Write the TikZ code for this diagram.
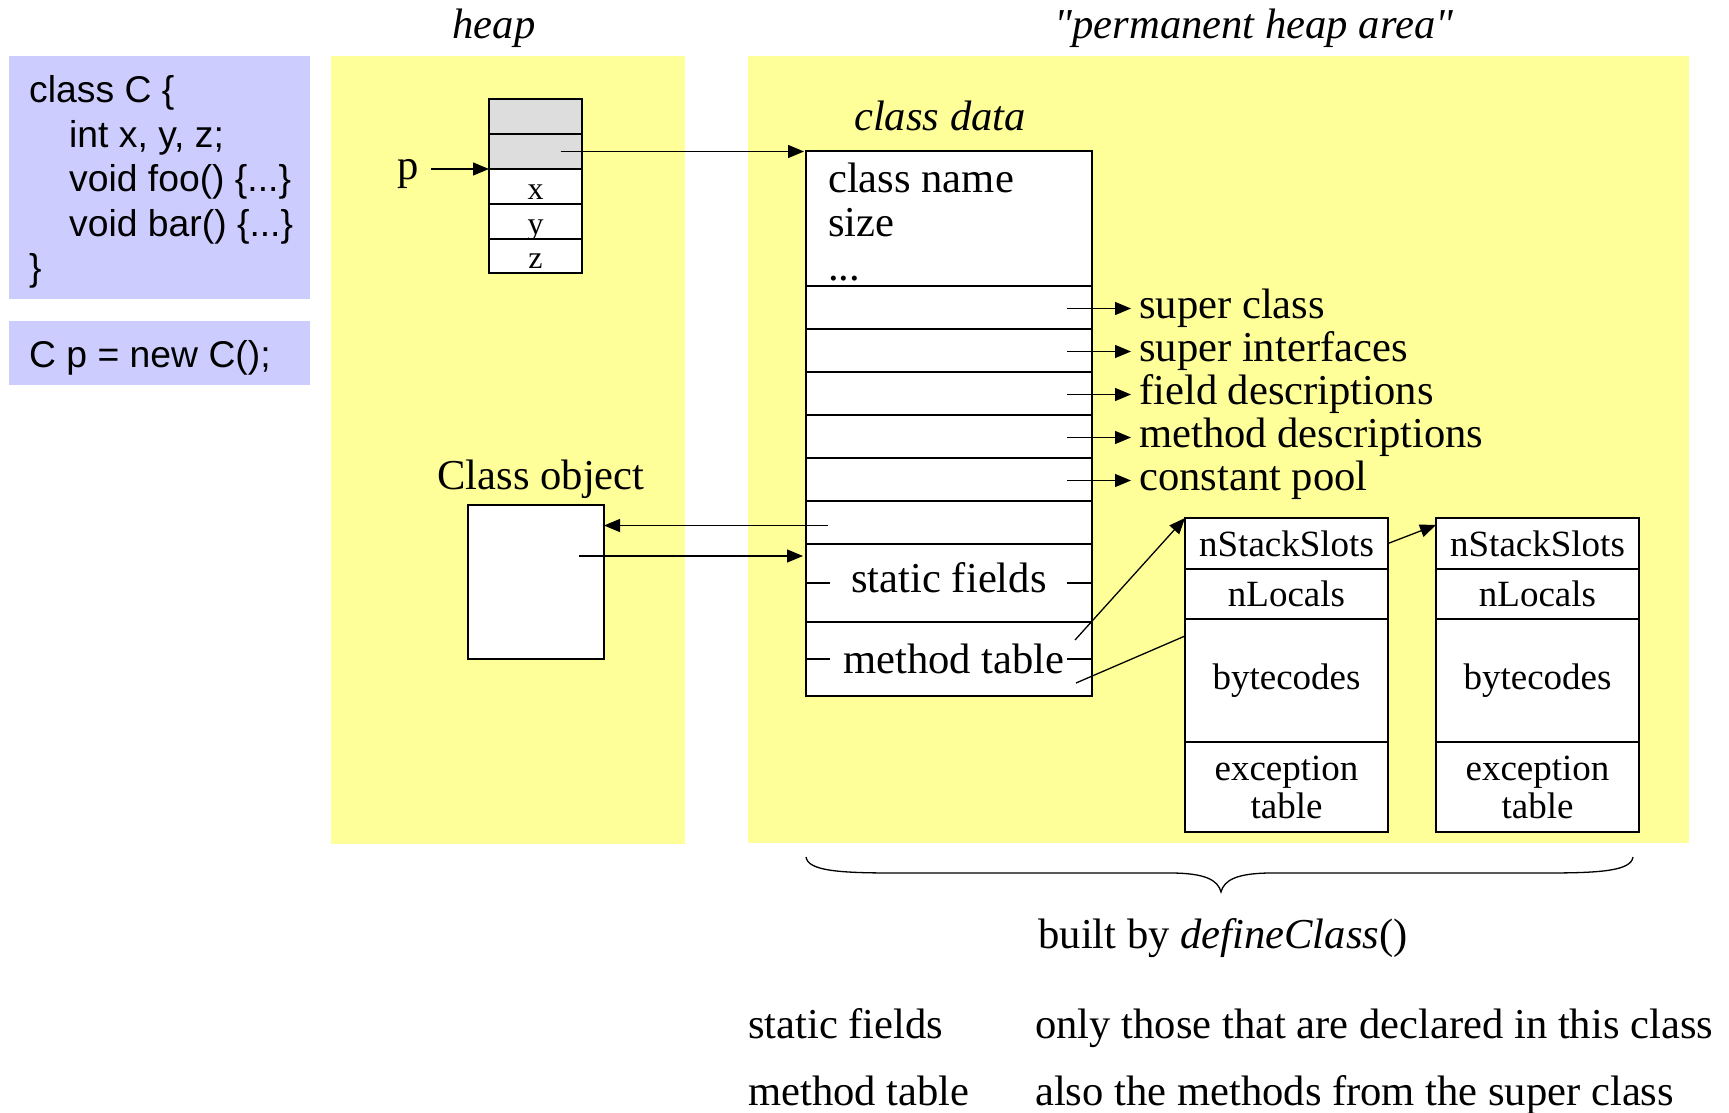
\documentclass[tikz,border=0pt]{standalone}
\usepackage{fontspec}
\setmainfont{Liberation Serif}
\newfontfamily\codefont{Liberation Sans}
\usetikzlibrary{arrows.meta,positioning}
\definecolor{cHeap}{HTML}{FFFF99}
\definecolor{cCode}{HTML}{CCCCFF}
\definecolor{cHdr}{HTML}{DDDDDD}
\newcommand\straightquote{\XeTeXglyph\XeTeXcharglyph"22\relax}
\tikzset{
  >={Triangle[length=16pt,width=13pt]},
  heaparea/.style={fill=cHeap},
  codebox/.style ={fill=cCode},
  cell/.style    ={draw,fill=white,line width=1.5pt,inner sep=0pt,outer sep=0pt},
  ptr/.style     ={->,line width=1.3pt},
  tickline/.style={line width=1.3pt},
  bigtxt/.style  ={font=\fontsize{42.6}{44}\selectfont,inner sep=0pt},
  midtxt/.style  ={font=\fontsize{37}{38}\selectfont},
  smalltxt/.style={font=\fontsize{32}{34}\selectfont,text height=27pt,text depth=2pt},
  codeline/.style={font=\codefont\fontsize{37.3}{44.5}\selectfont,anchor=base west,inner sep=0pt},
}
\begin{document}
\begin{tikzpicture}[x=1pt,y=-1pt]
  \useasboundingbox (0,0) rectangle (1729,1113);
  % source code
  \fill[codebox] (9,56) rectangle (310,299);
  \fill[codebox] (9,321) rectangle (310,385);
  \node[codeline] (code1) at (29,102.5) {class C \{};
  \node[codeline] (code2) at (69,147) {int x, y, z;};
  \node[codeline] (code3) at (69,191.5) {void foo() \{...\}};
  \node[codeline] (code4) at (69,236) {void bar() \{...\}};
  \node[codeline] (code5) at (29,280.5) {\}};
  \node[codeline] (code6) at (29,367) {C p = new C();};
  % memory areas
  \fill[heaparea] (331,56) rectangle (685,844);
  \fill[heaparea] (748,56) rectangle (1689,843);
  \node[bigtxt,anchor=base] (heapT) at (494,39) {\itshape heap};
  \node[bigtxt,anchor=base] (permT) at (1254,39) {\itshape \straightquote permanent heap area\straightquote};
  % object p
  \node[cell,fill=cHdr,minimum width=93pt,minimum height=35pt,anchor=north west] (hdrA) at (489,99) {};
  \node[cell,fill=cHdr,minimum width=93pt,minimum height=35pt,below=0pt of hdrA] (hdrB) {};
  \node[cell,smalltxt,minimum width=93pt,minimum height=35pt,below=0pt of hdrB] (fx) {x};
  \node[cell,smalltxt,minimum width=93pt,minimum height=35pt,below=0pt of fx] (fy) {y};
  \node[cell,smalltxt,minimum width=93pt,minimum height=34pt,below=0pt of fy] (fz) {z};
  \node[bigtxt,anchor=base] (p) at (408,179) {p};
  \draw[ptr] ([xshift=12pt]p.east |- fx.north west) -- (fx.north west);
  % class data
  \node[bigtxt,anchor=base] (cdT) at (940,131) {\itshape class data};
  \node[cell,minimum width=286pt,minimum height=135pt,anchor=north west] (cdHead) at (806,151) {};
  \node[cell,minimum width=286pt,minimum height=43pt,below=0pt of cdHead] (cdSup) {};
  \node[cell,minimum width=286pt,minimum height=43pt,below=0pt of cdSup] (cdItf) {};
  \node[cell,minimum width=286pt,minimum height=43pt,below=0pt of cdItf] (cdFld) {};
  \node[cell,minimum width=286pt,minimum height=43pt,below=0pt of cdFld] (cdMth) {};
  \node[cell,minimum width=286pt,minimum height=43pt,below=0pt of cdMth] (cdPool) {};
  \node[cell,minimum width=286pt,minimum height=43pt,below=0pt of cdPool] (cdObj) {};
  \node[cell,bigtxt,text depth=12pt,minimum width=286pt,minimum height=78pt,below=0pt of cdObj] (cdStat) {static fields};
  \node[cell,bigtxt,minimum width=286pt,minimum height=74pt,below=0pt of cdStat] (cdTab) {\hspace*{10pt}method table};
  \node[bigtxt,anchor=base west] (cdName) at (828,192) {class name};
  \node[bigtxt,anchor=base west] (cdSize) at (828,236) {size};
  \node[bigtxt,anchor=base west] (cdDots) at (828,280) {...};
  \draw[ptr] ([xshift=25pt]hdrB.center) -- ([xshift=-2pt]cdHead.north west |- hdrB.center);
  \foreach \r/\t in {cdSup/super class,cdItf/super interfaces,cdFld/field descriptions,
                     cdMth/method descriptions,cdPool/constant pool}{
    \node[bigtxt,anchor=west,inner xsep=8pt] (\r-l) at ([xshift=39pt,yshift=-1pt]\r.east) {\t};
    \draw[ptr] ([xshift=-25pt]\r-l.west -| \r.east) -- (\r-l.west);
  }
  \draw[tickline] (cdStat.west) -- ++(24,0);
  \draw[tickline] (cdStat.east) -- ++(-25,0);
  \draw[tickline] (cdTab.west) -- ++(24,0);
  \draw[tickline] (cdTab.east) -- ++(-25,0);
  % Class object
  \node[cell,minimum width=136pt,minimum height=154pt,anchor=north west] (clsObj) at (468,505) {};
  \node[bigtxt,anchor=base] (clsObjT) at (541,489) {Class object};
  \draw[ptr] ([xshift=22pt,yshift=-3pt]cdObj.west) -- ([yshift=-3pt]clsObj.east |- cdObj.west);
  \draw[ptr] ([xshift=-25pt,yshift=26pt]clsObj.east) -- ([xshift=-3pt,yshift=26pt]clsObj.east -| cdStat.west);
  % methods
  \node[cell,midtxt,minimum width=203pt,minimum height=51pt,anchor=north west] (mb1a) at (1185,518) {nStackSlots};
  \node[cell,midtxt,minimum width=203pt,minimum height=50pt,below=0pt of mb1a] (mb1b) {nLocals};
  \node[cell,midtxt,minimum width=203pt,minimum height=123pt,below=0pt of mb1b] (mb1c) {bytecodes};
  \node[cell,midtxt,minimum width=203pt,minimum height=90pt,below=0pt of mb1c,align=center] (mb1d) {exception\\table};
  \node[cell,midtxt,minimum width=203pt,minimum height=51pt,right=48pt of mb1a] (mb2a) {nStackSlots};
  \node[cell,midtxt,minimum width=203pt,minimum height=50pt,below=0pt of mb2a] (mb2b) {nLocals};
  \node[cell,midtxt,minimum width=203pt,minimum height=123pt,below=0pt of mb2b] (mb2c) {bytecodes};
  \node[cell,midtxt,minimum width=203pt,minimum height=90pt,below=0pt of mb2c,align=center] (mb2d) {exception\\table};
  \draw[ptr] ([xshift=-17pt,yshift=19pt]cdTab.east) -- (mb1a.north west);
  \draw[line width=1.3pt] ([xshift=-16pt,yshift=-24pt]cdTab.east) -- ([yshift=-17pt]mb1c.north west);
  \draw[ptr] (mb1a.east) -- ([yshift=-7pt]mb2a.north west);
  % brace
  \draw[line width=1.3pt] (806,857) .. controls (808,871) and (840,873) .. (895,873) -- (1170,873)
    .. controls (1205,873) and (1218,880) .. (1221,892)
    .. controls (1224,880) and (1237,873) .. (1272,873) -- (1545,873)
    .. controls (1600,873) and (1631,871) .. (1633,857);
  \node[bigtxt,anchor=base] (built) at (1223,948) {built by \textit{defineClass}()};
  % notes
  \node[bigtxt,anchor=base west] (n1) at (748,1038) {static fields};
  \node[bigtxt,anchor=base west] (n2) at (748,1105) {method table};
  \node[bigtxt,anchor=base west] (n1t) at (1035,1038) {only those that are declared in this class};
  \node[bigtxt,anchor=base west] (n2t) at (1035,1105) {also the methods from the super class};
\end{tikzpicture}
\end{document}
